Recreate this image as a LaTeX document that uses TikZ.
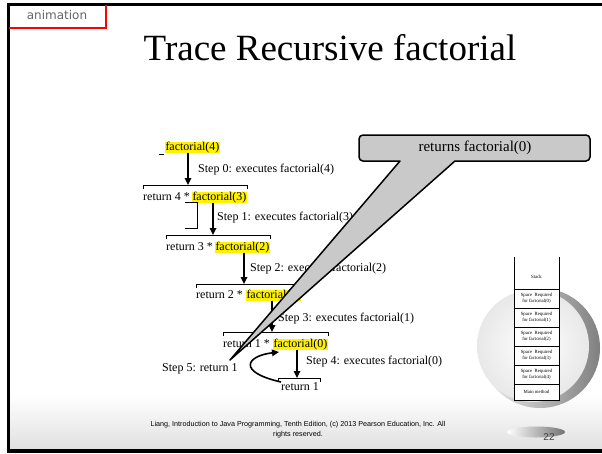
\documentclass[tikz,border=0pt]{standalone}
\usepackage{fontspec}
\setmainfont{Liberation Serif}
\newfontfamily\sansf{Liberation Sans}
\newfontfamily\tabf{DejaVu Sans}
\usetikzlibrary{arrows.meta}
\begin{document}
\begin{tikzpicture}[x=1pt,y=-1pt,
  txt/.style={inner sep=0pt, anchor=west, font=\fontsize{12}{14}\selectfont, text height=8.5pt, text depth=2.5pt},
  hl/.style={txt, fill=yellow, inner xsep=0.3pt},
  brk/.style={line width=0.8pt},
  arr/.style={line width=1.6pt, -{Triangle[length=7pt,width=6.5pt]}},
  cellbox/.style={draw, line width=0.7pt, fill=white},
  celltxt/.style={font=\fontsize{4.8}{5.6}\selectfont, align=center, inner sep=0pt}
]
\useasboundingbox (0,0) rectangle (602,453);
% slide background
\fill[white] (0,0) rectangle (602,453);
\shade[top color=white, bottom color=black!12] (9,395) rectangle (602,449);
\fill[black] (7,3) rectangle (602,6);
\fill[black] (7,3) rectangle (10,453);
\fill[black] (7,449) rectangle (602,453);
% animation tab
\draw[red, line width=2pt] (9,28) -- (106,28) -- (106,5);
\node[font=\tabf\fontsize{12}{14}\selectfont, text=black!60, inner sep=0pt] (tab) at (57,15) {animation};
% title
\node[font=\fontsize{37}{41}\selectfont, inner sep=0pt] (title) at (330,48) {Trace Recursive factorial};

% globe decoration
\shade[left color=black!6, right color=black!50] (540,348) circle (60);
\shade[inner color=white, outer color=black!9] (533,346) circle (56);
% stack
\fill[white] (514,257) rectangle (559,289);
\draw[line width=0.7pt] (514,257) -- (514,289);
\draw[line width=0.7pt] (559,257) -- (559,289);
\node[celltxt] (stk) at (536.5,277) {Stack};
\draw[cellbox] (514,289) rectangle (559,308);
\node[celltxt] (c0) at (536.5,298.5) {Space\enspace Required\\for factorial(0)};
\draw[cellbox] (514,308) rectangle (559,327);
\node[celltxt] (c1) at (536.5,317.5) {Space\enspace Required\\for factorial(1)};
\draw[cellbox] (514,327) rectangle (559,346);
\node[celltxt] (c2) at (536.5,336.5) {Space\enspace Required\\for factorial(2)};
\draw[cellbox] (514,346) rectangle (559,365);
\node[celltxt] (c3) at (536.5,355.5) {Space\enspace Required\\for factorial(3)};
\draw[cellbox] (514,365) rectangle (559,384);
\node[celltxt] (c4) at (536.5,374.5) {Space\enspace Required\\for factorial(4)};
\draw[cellbox] (514,384) rectangle (559,400);
\node[celltxt] (cm) at (536.5,392) {Main method};

% level 0
\node[hl] (f4) at (165,147) {factorial(4)};
\draw[line width=0.8pt] (159,154) -- (164,154);
\coordinate (t1) at (188,185);
\draw[arr] (f4.south -| t1) -- (t1);
\node[txt] (s0) at (198,169) {Step 0: executes factorial(4)};
\draw[brk] (143,189) |- (247,185) -- (247,189);
\node[txt] (r4) at (143,197) {return 4 *};
\node[hl] (f3) at (192,197) {factorial(3)};
\draw[line width=0.9pt] (185,202) -- (197,202) -- (197,228) -- (185,228);

% level 1
\coordinate (t2) at (213,235);
\draw[arr] (f3.south -| t2) -- (t2);
\node[txt] (s1) at (217,217) {Step 1: executes factorial(3)};
\draw[brk] (166,239) |- (270,235) -- (270,239);
\node[txt] (r3) at (166,247) {return 3 *};
\node[hl] (f2) at (215,247) {factorial(2)};

% level 2
\coordinate (t3) at (244,284);
\draw[arr] (f2.south -| t3) -- (t3);
\node[txt] (s2) at (250,268) {Step 2: executes factorial(2)};
\draw[brk] (196,288) |- (303,284) -- (303,288);
\node[txt] (r2) at (196,295) {return 2 *};
\node[hl] (f1) at (246,295) {factorial(1)};

% level 3
\coordinate (t4) at (272,332);
\draw[arr] (f1.south -| t4) -- (t4);
\node[txt] (s3) at (278,318) {Step 3: executes factorial(1)};
\draw[brk] (223,336) |- (328,332) -- (328,336);
\node[txt] (r1) at (223,344) {return 1 *};
\node[hl] (f0) at (273,344) {factorial(0)};

% level 4
\coordinate (t5) at (297,378);
\draw[arr] (f0.south -| t5) -- (t5);
\node[txt] (s4) at (306,361) {Step 4: executes factorial(0)};
\draw[brk] (278,382) |- (320,378) -- (320,382);
\node[txt] (ret) at (281,387) {return 1};
\node[txt] (s5) at (162,368) {Step 5: return 1};
\coordinate (cs) at (281,382);
\coordinate (ce) at (279,352);
\draw[arr] (cs) .. controls (237,372) and (246,356) .. (ce);

% callout
\draw[fill=black!21, line width=1.5pt, line join=round]
  (400,161) -- (230,360) -- (455,161) [rounded corners=4pt] -- (590,161) -- (590,135) -- (359,135) -- (359,161) [sharp corners] -- cycle;
\node[font=\fontsize{15}{18}\selectfont, inner sep=0pt] (co) at (475,148) {returns factorial(0)};

% footer
\shade[left color=white, right color=black!55] (536,432) ellipse (29 and 5.5);
\node[font=\sansf\fontsize{7.2}{10}\selectfont, align=center, inner sep=0pt] (foot) at (298,430)
  {Liang, Introduction to Java Programming, Tenth Edition, (c) 2013 Pearson Education, Inc. All\\rights reserved.};
\node[font=\sansf\fontsize{10}{12}\selectfont, text=black!75, inner sep=0pt] (pg) at (549,437) {22};
\end{tikzpicture}
\end{document}
